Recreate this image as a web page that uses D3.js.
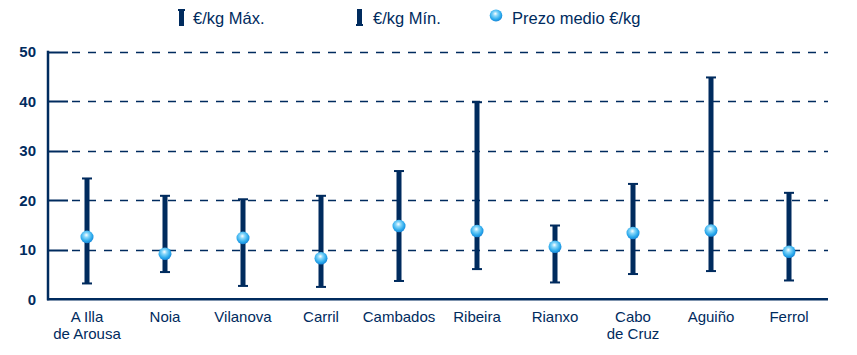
<!DOCTYPE html>
<html>
<head>
<meta charset="utf-8">
<script src="https://cdn.jsdelivr.net/npm/d3@7"></script>
<style>
  html, body { margin: 0; padding: 0; background: #fff; }
  svg { display: block; font-family: "Liberation Sans", Arial, sans-serif; }
</style>
</head>
<body>
<svg id="chart" width="857" height="355"></svg>
<script>
const categories = [["A Illa", "de Arousa"], ["Noia"], ["Vilanova"], ["Carril"], ["Cambados"], ["Ribeira"], ["Rianxo"], ["Cabo", "de Cruz"], ["Aguiño"], ["Ferrol"]];
const maxValues = [24.4, 20.9, 20.2, 20.9, 25.9, 39.8, 14.9, 23.3, 44.8, 21.5];
const minValues = [3.2, 5.5, 2.7, 2.5, 3.7, 6.1, 3.4, 5.1, 5.7, 3.8];
const meanValues = [12.6, 9.2, 12.4, 8.3, 14.8, 13.8, 10.6, 13.4, 13.9, 9.6];
const yTicks = [0, 10, 20, 30, 40, 50];
const legendLabels = ["€/kg Máx.", "€/kg Mín.", "Prezo medio €/kg"];

(function () {
const NAVY = "#002B5E";
const svg = d3.select("#chart");
const mLeft = 48, mRight = 828, mTop = 51.7, mBottom = 299.3;

const keys = categories.map(c => c.join(" "));
const x = d3.scaleBand().domain(keys).range([mLeft, mRight]);
const y = d3.scaleLinear().domain([0, 50]).range([mBottom, mTop]);

// gradient for balls
const defs = svg.append("defs");
const g = defs.append("radialGradient").attr("id", "ball").attr("cx", "45%").attr("cy", "40%").attr("r", "60%").attr("fx", "45%").attr("fy", "35%");
g.append("stop").attr("offset", "0%").attr("stop-color", "#ffffff");
g.append("stop").attr("offset", "30%").attr("stop-color", "#8ad8fa");
g.append("stop").attr("offset", "75%").attr("stop-color", "#29a9ec");
g.append("stop").attr("offset", "100%").attr("stop-color", "#1b86d6");

// gridlines
svg.append("g").selectAll("line").data(yTicks.filter(d => d > 0)).join("line")
  .attr("x1", mLeft + 20).attr("x2", mRight)
  .attr("y1", d => Math.round(y(d)) + 0.5).attr("y2", d => Math.round(y(d)) + 0.5)
  .attr("stroke", NAVY).attr("stroke-width", 1.3).attr("stroke-dasharray", "8,8").attr("stroke-dashoffset", -4);

// tick marks
svg.append("g").selectAll("line").data(yTicks.filter(d => d > 0)).join("line")
  .attr("x1", mLeft).attr("x2", mLeft + 20)
  .attr("y1", d => Math.round(y(d)) + 0.5).attr("y2", d => Math.round(y(d)) + 0.5)
  .attr("stroke", NAVY).attr("stroke-width", 2);

// axes lines
svg.append("line").attr("x1", mLeft).attr("x2", mLeft).attr("y1", mTop - 1).attr("y2", mBottom + 1)
  .attr("stroke", NAVY).attr("stroke-width", 2.5);
svg.append("line").attr("x1", mLeft - 1).attr("x2", mRight).attr("y1", mBottom).attr("y2", mBottom)
  .attr("stroke", NAVY).attr("stroke-width", 2.5);

// y labels
svg.append("g").selectAll("text").data(yTicks).join("text")
  .attr("x", 36).attr("y", d => y(d) + 5.5)
  .attr("text-anchor", "end").attr("font-size", 15).attr("font-weight", "bold")
  .attr("fill", NAVY).text(d => d);

// x labels
const xl = svg.append("g").selectAll("text").data(categories).join("text")
  .attr("x", d => x(d.join(" ")) + x.bandwidth() / 2)
  .attr("y", 322)
  .attr("text-anchor", "middle").attr("font-size", 15).attr("fill", NAVY);
xl.each(function(d) {
  const t = d3.select(this);
  d.forEach((line, i) => {
    t.append("tspan").attr("x", x(d.join(" ")) + x.bandwidth() / 2).attr("dy", i === 0 ? 0 : 17).text(line);
  });
});

// error bars
const cx = i => x(keys[i]) + x.bandwidth() / 2;
const bars = svg.append("g");
bars.selectAll("rect.shaft").data(keys).join("rect").attr("class", "shaft")
  .attr("x", (d, i) => cx(i) - 2.5).attr("width", 5)
  .attr("y", (d, i) => y(maxValues[i])).attr("height", (d, i) => y(minValues[i]) - y(maxValues[i]))
  .attr("fill", NAVY);
bars.selectAll("rect.capT").data(keys).join("rect").attr("class", "capT")
  .attr("x", (d, i) => cx(i) - 5).attr("width", 10)
  .attr("y", (d, i) => y(maxValues[i]) - 1).attr("height", 2)
  .attr("fill", NAVY);
bars.selectAll("rect.capB").data(keys).join("rect").attr("class", "capB")
  .attr("x", (d, i) => cx(i) - 5).attr("width", 10)
  .attr("y", (d, i) => y(minValues[i]) - 1).attr("height", 2)
  .attr("fill", NAVY);

// balls
svg.append("g").selectAll("ellipse").data(keys).join("ellipse")
  .attr("cx", (d, i) => cx(i)).attr("cy", (d, i) => y(meanValues[i]))
  .attr("rx", 6.5).attr("ry", 6.3)
  .attr("fill", "url(#ball)");

// legend
const lg = svg.append("g");
lg.append("rect").attr("x", 179).attr("y", 9).attr("width", 5).attr("height", 17).attr("fill", NAVY);
lg.append("rect").attr("x", 178).attr("y", 9).attr("width", 7).attr("height", 2).attr("fill", NAVY);
lg.append("text").attr("x", 193).attr("y", 24.3).attr("font-size", 16.5).attr("fill", NAVY).text(legendLabels[0]);
lg.append("rect").attr("x", 357).attr("y", 9).attr("width", 5).attr("height", 17).attr("fill", NAVY);
lg.append("rect").attr("x", 356).attr("y", 24).attr("width", 7).attr("height", 2).attr("fill", NAVY);
lg.append("text").attr("x", 373).attr("y", 24.3).attr("font-size", 16.5).attr("fill", NAVY).text(legendLabels[1]);
lg.append("ellipse").attr("cx", 496).attr("cy", 15.5).attr("rx", 6.3).attr("ry", 6).attr("fill", "url(#ball)");
lg.append("text").attr("x", 512).attr("y", 24.3).attr("font-size", 16.5).attr("fill", NAVY).text(legendLabels[2]);
})();
</script>
</body>
</html>
